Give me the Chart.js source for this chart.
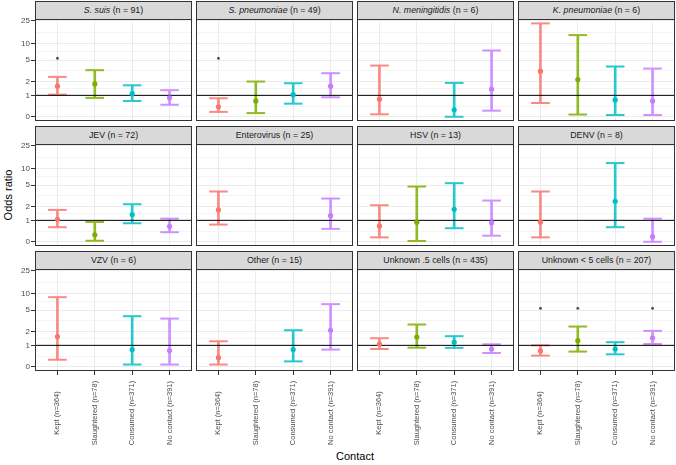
<!DOCTYPE html>
<html>
<head>
<meta charset="utf-8">
<script src="https://cdn.jsdelivr.net/npm/chart.js@4.4.1/dist/chart.umd.min.js"></script>
<style>
  body { margin: 0; background: #fff; }
  #wrap { position: relative; width: 676px; height: 465px; font-family: "Liberation Sans", Arial, sans-serif; }
  #wrap canvas { position: absolute; }
  .strip { position: absolute; box-sizing: border-box; background: #d9d9d9; border: 1px solid #333;
           font-size: 8.8px; color: #1a1a1a; text-align: center; line-height: 17px; white-space: nowrap; }
  .axis-title { position: absolute; font-size: 11px; color: #000; white-space: nowrap; }
</style>
</head>
<body>
<div id="wrap">
  <div class="axis-title" style="left:8px; top:195px; transform: translate(-50%, -50%) rotate(-90deg);">Odds ratio</div>
  <div class="axis-title" style="left:355px; top:456px; transform: translate(-50%, -50%);">Contact</div>
</div>
<script>
const categories = ['Kept (n=364)', 'Slaughtered (n=78)', 'Consumed (n=371)', 'No contact (n=391)'];
const pathogens = ['S. suis', 'S. pneumoniae', 'N. meningitidis', 'K. pneumoniae',
                   'JEV', 'Enterovirus', 'HSV', 'DENV',
                   'VZV', 'Other', 'Unknown .5 cells', 'Unknown < 5 cells'];
const italicName = [true, true, true, true, false, false, false, false, false, false, false, false];
const counts = [91, 49, 6, 6, 72, 25, 13, 8, 6, 15, 435, 207];

// odds ratio estimates and 95% CI, one row per pathogen, columns follow categories
const estimate = [
  [1.61, 1.79, 1.10, 0.86],
  [0.43, 0.70, 1.04, 1.61],
  [0.79, null, 0.30, 1.39],
  [3.15, 2.19, 0.75, 0.70],
  [1.06, 0.30, 1.36, 0.68],
  [1.71, null, null, 1.29],
  [0.70, 0.89, 1.76, 0.87],
  [0.91, null, 2.53, 0.22],
  [1.58, null, 0.77, 0.72],
  [0.39, null, 0.77, 2.12],
  [1.08, 1.55, 1.19, 0.80],
  [0.70, 1.29, 0.80, 1.48]
];
const lower = [
  [1.04, 0.86, 0.70, 0.52],
  [0.21, 0.16, 0.57, 0.89],
  [0.11, null, 0.01, 0.26],
  [0.60, 0.10, 0.08, 0.08],
  [0.64, 0.05, 0.84, 0.41],
  [0.77, null, null, 0.56],
  [0.19, 0.04, 0.59, 0.26],
  [0.19, null, 0.64, 0.01],
  [0.30, null, 0.10, 0.10],
  [0.10, null, 0.23, 0.77],
  [0.80, 0.87, 0.86, 0.60],
  [0.48, 0.67, 0.54, 1.08]
];
const upper = [
  [2.46, 3.29, 1.68, 1.32],
  [0.84, 2.00, 1.85, 2.89],
  [4.00, null, 1.88, 7.46],
  [22.6, 14.0, 3.84, 3.52],
  [1.71, 0.91, 2.22, 1.10],
  [3.84, null, null, 2.85],
  [2.12, 4.73, 5.44, 2.61],
  [3.84, null, 12.4, 1.10],
  [8.56, null, 3.89, 3.52],
  [1.25, null, 2.12, 6.42],
  [1.46, 2.73, 1.61, 1.06],
  [1.00, 2.50, 1.19, 2.06]
];
// categories marked with an asterisk
const flagged = [[0], [0], [], [], [], [], [], [], [], [], [], [0, 1, 3]];
const flagLevel = 5.4;

const yBreaks = [0, 1, 2, 5, 10, 25];
const pointColors = ['#F8766D', '#7CAE00', '#00BFC4', '#C77CFF'];
const barColors = ['#F98A83', '#90BA26', '#26C9CD', '#CF90FF'];

// pseudo-log axis
const tr = v => Math.asinh(v);

const panelLeft = [35, 196, 357, 518];
const panelW = 157, plotH = 102, rowStep = 125, firstTop = 19, pad = 8;

const panelFrame = {
  id: 'panelFrame',
  afterDraw(chart) {
    const {ctx, chartArea: a} = chart;
    ctx.save();
    ctx.strokeStyle = '#333';
    ctx.lineWidth = 1;
    ctx.strokeRect(a.left + 0.5, a.top + 0.5, a.right - a.left - 1, a.bottom - a.top - 1);
    if (chart.options.plugins.panelFrame.xLabels) {
      const xs = chart.scales.x;
      ctx.fillStyle = '#4d4d4d';
      ctx.font = '7.5px "Liberation Sans", Arial, sans-serif';
      ctx.textAlign = 'center';
      ctx.textBaseline = 'middle';
      categories.forEach((c, i) => {
        ctx.save();
        ctx.translate(xs.getPixelForValue(i), a.bottom + 42);
        ctx.rotate(-Math.PI / 2);
        ctx.fillText(c, 0, 0);
        ctx.restore();
      });
    }
    ctx.restore();
  }
};

const wrap = document.getElementById('wrap');

pathogens.forEach((name, p) => {
  const r = Math.floor(p / 4), c = p % 4;
  const yw = c === 0 ? 35 : 0;
  const xh = r === 2 ? 80 : 0;

  const canvas = document.createElement('canvas');
  canvas.width = panelW + yw;
  canvas.height = pad + plotH + (xh || pad);
  canvas.style.left = (panelLeft[c] - yw) + 'px';
  canvas.style.top = (firstTop + r * rowStep - pad) + 'px';
  wrap.appendChild(canvas);

  const strip = document.createElement('div');
  strip.className = 'strip';
  strip.style.left = panelLeft[c] + 'px';
  strip.style.top = (1 + r * rowStep) + 'px';
  strip.style.width = panelW + 'px';
  strip.style.height = '19px';
  strip.innerHTML = (italicName[p] ? '<i>' + name + '</i>' : name) + ' (n = ' + counts[p] + ')';
  wrap.appendChild(strip);

  const bars = [], barCols = [], caps = [], capColors = [], pts = [], ptColors = [], stars = [];
  categories.forEach((cat, i) => {
    if (estimate[p][i] == null) return;
    bars.push({x: i, y: [tr(lower[p][i]), tr(upper[p][i])]});
    barCols.push(barColors[i]);
    caps.push({x: i, y: tr(lower[p][i])}, {x: i, y: tr(upper[p][i])});
    capColors.push(barColors[i], barColors[i]);
    pts.push({x: i, y: tr(estimate[p][i])});
    ptColors.push(pointColors[i]);
  });
  flagged[p].forEach(i => stars.push({x: i, y: tr(flagLevel)}));

  const yTicks = [];
  yBreaks.forEach((b, k) => {
    yTicks.push({value: tr(b), txt: String(b)});
    if (k < yBreaks.length - 1) {
      yTicks.push({value: (tr(b) + tr(yBreaks[k + 1])) / 2, txt: '', minor: true});
    }
  });

  new Chart(canvas, {
    type: 'scatter',
    data: {
      datasets: [
        {
          data: pts, pointRadius: 2.6, pointBorderWidth: 0,
          pointBackgroundColor: ptColors
        },
        {
          type: 'line',
          data: [{x: -0.6, y: tr(1)}, {x: 3.6, y: tr(1)}],
          borderColor: '#000', borderWidth: 1, pointRadius: 0
        },
        {
          data: stars, pointStyle: 'star', pointRadius: 1.4,
          pointBorderColor: '#444', pointBorderWidth: 1
        },
        {
          data: caps, pointStyle: 'line', pointRadius: 9.3,
          pointBorderColor: capColors, pointBorderWidth: 2
        },
        {
          type: 'bar', data: bars, backgroundColor: barCols,
          barThickness: 2, borderWidth: 0
        }
      ]
    },
    options: {
      responsive: false,
      animation: false,
      events: [],
      layout: {autoPadding: false, padding: {top: pad, bottom: xh ? 0 : pad, left: 0, right: 0}},
      plugins: {
        legend: {display: false},
        tooltip: {enabled: false},
        panelFrame: {xLabels: r === 2}
      },
      scales: {
        x: {
          type: 'linear', min: -0.6, max: 3.6, offset: false,
          afterBuildTicks: s => { s.ticks = categories.map((cat, i) => ({value: i})); },
          afterFit: s => { s.height = xh; s.paddingLeft = 0; s.paddingRight = 0; },
          ticks: {display: false, autoSkip: false},
          border: {display: false},
          grid: {
            offset: false,
            color: '#ebebeb', lineWidth: 1,
            drawTicks: r === 2, tickLength: 4, tickColor: '#333'
          }
        },
        y: {
          type: 'linear', min: -0.163, max: 3.99,
          afterBuildTicks: s => { s.ticks = yTicks.map(t => Object.assign({}, t)); },
          afterFit: s => { s.width = yw; s.paddingTop = 0; s.paddingBottom = 0; },
          ticks: {
            display: c === 0, autoSkip: false, padding: 1,
            color: '#4d4d4d', font: {size: 8, family: '"Liberation Sans", Arial, sans-serif'},
            callback: (v, i, ticks) => ticks[i].txt
          },
          border: {display: false},
          grid: {
            color: ctx => ctx.tick && ctx.tick.minor ? '#f4f4f4' : '#ebebeb',
            lineWidth: 1,
            drawTicks: c === 0, tickLength: 4,
            tickColor: ctx => ctx.tick && ctx.tick.minor ? 'rgba(0,0,0,0)' : '#333'
          }
        }
      }
    },
    plugins: [panelFrame]
  });
});
</script>
</body>
</html>
